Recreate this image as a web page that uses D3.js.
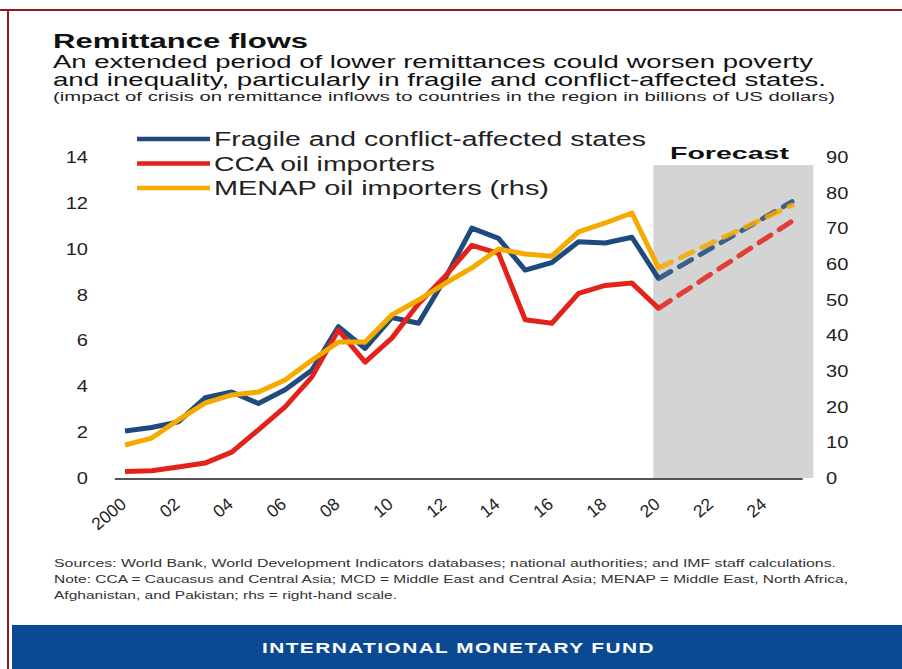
<!DOCTYPE html>
<html>
<head>
<meta charset="utf-8">
<script src="https://cdn.jsdelivr.net/npm/d3@7"></script>
<style>
    body { margin: 0; background: #fff; }
    svg { display: block; font-family: 'Liberation Sans', Arial, sans-serif; }
</style>
</head>
<body>
<svg id="chart" width="902" height="669"></svg>
<script>
// data (billions of US dollars)
const years = [2000, 2001, 2002, 2003, 2004, 2005, 2006, 2007, 2008, 2009, 2010,
               2011, 2012, 2013, 2014, 2015, 2016, 2017, 2018, 2019, 2020]
const fragile = [2.05, 2.2, 2.45, 3.5, 3.75, 3.25, 3.85, 4.7, 6.6, 5.65, 7.0,
                 6.75, 8.7, 10.9, 10.45, 9.07, 9.4, 10.3, 10.25, 10.5, 8.7]
const cca = [0.28, 0.32, 0.48, 0.65, 1.13, 2.1, 3.1, 4.4, 6.45, 5.05, 6.1,
             7.6, 8.8, 10.15, 9.8, 6.9, 6.75, 8.05, 8.4, 8.5, 7.4]
const menap = [9.25, 11.2, 16.3, 21, 23.3, 24.1, 27.5, 33, 38.1, 38.1, 45.7,
               49.9, 54.6, 58.9, 64.2, 62.8, 62.2, 69, 71.5, 74.3, 58.9]

const forecastYears = [2020, 2025]
const fragileF = [8.7, 12.05]
const ccaF = [7.4, 11.2]
const menapF = [58.9, 76.5]

const forecastBand = [2019.8, 2025.8]
const xTicks = [2000, 2002, 2004, 2006, 2008, 2010, 2012, 2014, 2016, 2018, 2020, 2022, 2024]
const xTickLabels = ['2000', '02', '04', '06', '08', '10', '12', '14', '16', '18', '20', '22', '24']
const leftTicks = [0, 2, 4, 6, 8, 10, 12, 14]
const rightTicks = [0, 10, 20, 30, 40, 50, 60, 70, 80, 90]

const seriesNames = ['Fragile and conflict-affected states', 'CCA oil importers', 'MENAP oil importers (rhs)']
const colors = ['#1f4a7e', '#e3231b', '#f5aa00']

const svg = d3.select('#chart')

//scales
const x = d3.scaleLinear().domain([2000, 2025]).range([125, 792])
const yL = d3.scaleLinear().domain([0, 14]).range([478, 157])
const yR = d3.scaleLinear().domain([0, 90]).range([478, 157])

//frame
svg.append('rect').attr('width', 902).attr('height', 669).style('fill', '#fff')
svg.append('line').attr('x1', 0).attr('x2', 902).attr('y1', 10).attr('y2', 10)
    .style('stroke', '#8e1b1f').style('stroke-width', 2)
svg.append('line').attr('x1', 8).attr('x2', 8).attr('y1', 10).attr('y2', 669)
    .style('stroke', '#8e1b1f').style('stroke-width', 2)

//helper for text stretched to a given width (the picture is wide)
const txt = (str, tx, ty, size, width, weight, fill) =>
    svg.append('text')
        .attr('x', tx).attr('y', ty)
        .attr('textLength', width)
        .attr('lengthAdjust', 'spacingAndGlyphs')
        .style('font-size', size + 'px')
        .style('font-weight', weight || 'normal')
        .style('fill', fill || '#111')
        .text(str)

//titles
txt('Remittance flows', 53, 48, 19.5, 255, 'bold')
txt('An extended period of lower remittances could worsen poverty', 53, 68, 18, 760)
txt('and inequality, particularly in fragile and conflict-affected states.', 53, 86, 18, 773)
txt('(impact of crisis on remittance inflows to countries in the region in billions of US dollars)', 53, 101, 12, 782, 'normal', '#222')

//forecast band
svg.append('rect')
    .attr('x', x(forecastBand[0]))
    .attr('width', x(forecastBand[1]) - x(forecastBand[0]))
    .attr('y', yL(13.65))
    .attr('height', yL(0) - yL(13.65))
    .style('fill', '#d4d4d4')
txt('Forecast', 670, 159, 17, 119, 'bold')

//axes
const leftAxis = svg.append('g')
    .attr('transform', 'translate(88,0)')
    .call(d3.axisLeft(yL).tickValues(leftTicks).tickSize(0).tickPadding(0))
const rightAxis = svg.append('g')
    .attr('transform', 'translate(826,0)')
    .call(d3.axisRight(yR).tickValues(rightTicks).tickSize(0).tickPadding(0))
;[leftAxis, rightAxis].forEach(a => {
    a.select('.domain').remove()
    a.selectAll('text')
        .attr('x', 0)
        .attr('transform', 'scale(1.18,1)')
        .style('font-size', '17px')
        .style('fill', '#222')
        .style('font-family', "'Liberation Sans', Arial, sans-serif")
})

const xAxis = svg.append('g')
    .attr('transform', 'translate(0,479)')
    .call(d3.axisBottom(x).tickValues(xTicks).tickSize(0)
        .tickFormat((d, i) => xTickLabels[i]))
xAxis.select('.domain')
    .attr('d', `M${x(1999.62)},0H${x(2025.4)}`)
    .style('stroke', '#555').style('stroke-width', 2.2)
xAxis.selectAll('text')
    .style('font-size', '17.5px')
    .style('fill', '#222')
    .style('font-family', "'Liberation Sans', Arial, sans-serif")
    .style('text-anchor', 'end')
    .attr('y', 0).attr('dy', 0)
    .attr('transform', 'translate(2,27) rotate(-40)')

//lines
const line = yScale => d3.line().x(d => x(d[0])).y(d => yScale(d[1]))
const hist = [fragile, cca, menap]
const fcst = [fragileF, ccaF, menapF]
const scales = [yL, yL, yR]

hist.forEach((vals, i) => {
    svg.append('path')
        .datum(years.map((yr, j) => [yr, vals[j]]))
        .attr('d', line(scales[i]))
        .style('fill', 'none')
        .style('stroke', colors[i])
        .style('stroke-width', 5)
        .style('stroke-linejoin', 'round')
    svg.append('path')
        .datum(forecastYears.map((yr, j) => [yr, fcst[i][j]]))
        .attr('d', line(scales[i]))
        .style('fill', 'none')
        .style('stroke', colors[i])
        .style('stroke-opacity', 0.85)
        .style('stroke-width', 5)
        .style('stroke-dasharray', '14 10')
        .style('stroke-linecap', 'round')
})

//legend
const legend = svg.append('g')
const legendWidths = [432, 221, 335]
seriesNames.forEach((name, i) => {
    const ly = 139 + i * 24.5
    legend.append('line')
        .attr('x1', 137).attr('x2', 210).attr('y1', ly).attr('y2', ly)
        .style('stroke', colors[i]).style('stroke-width', 4.5)
    txt(name, 214, ly + 7, 19.5, legendWidths[i], 'normal', '#222')
})

//notes
txt('Sources: World Bank, World Development Indicators databases; national authorities; and  IMF staff calculations.', 54, 567, 11.5, 782, 'normal', '#333')
txt('Note: CCA = Caucasus and Central Asia; MCD = Middle East and Central Asia; MENAP = Middle East, North Africa,', 54, 583, 11.5, 794, 'normal', '#333')
txt('Afghanistan, and Pakistan; rhs = right-hand scale.', 54, 599, 11.5, 343, 'normal', '#333')

//footer
svg.append('rect').attr('x', 12).attr('y', 625).attr('width', 890).attr('height', 44)
    .style('fill', '#0b4a93')
txt('INTERNATIONAL MONETARY FUND', 262, 653, 14.5, 393, 'bold', '#fff')
    .style('letter-spacing', '1px')
</script>
</body>
</html>
